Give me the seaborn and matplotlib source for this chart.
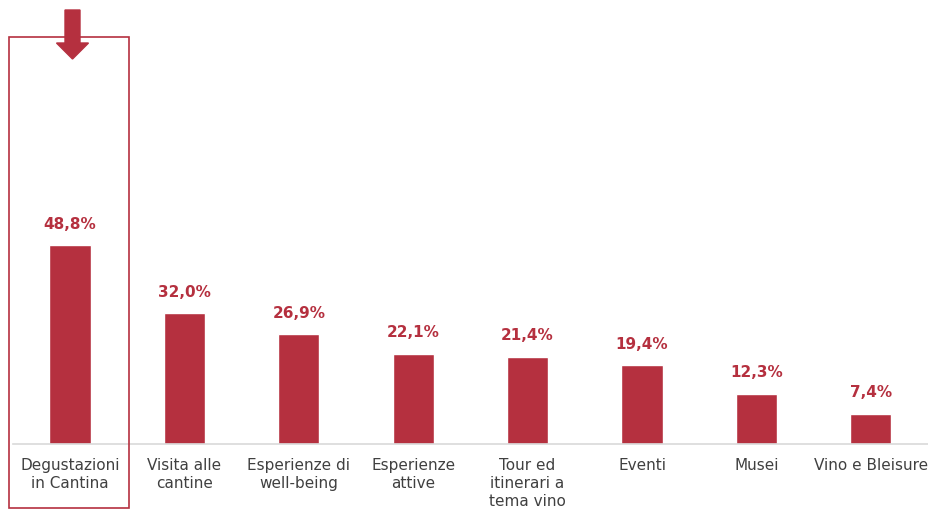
import matplotlib
matplotlib.use("Agg")
import matplotlib.pyplot as plt
from matplotlib.patches import Rectangle, FancyArrow
import seaborn as sns
import pandas as pd

categories = [
    "Degustazioni\nin Cantina",
    "Visita alle\ncantine",
    "Esperienze di\nwell-being",
    "Esperienze\nattive",
    "Tour ed\nitinerari a\ntema vino",
    "Eventi",
    "Musei",
    "Vino e Bleisure",
]
values = [48.8, 32.0, 26.9, 22.1, 21.4, 19.4, 12.3, 7.4]
value_labels = ["48,8%", "32,0%", "26,9%", "22,1%", "21,4%", "19,4%", "12,3%", "7,4%"]

RED = "#B5303F"
W, H = 929, 513

sns.set_theme(style="white")
plt.rcParams["font.family"] = ["DejaVu Sans"]

fig = plt.figure(figsize=(W / 100, H / 100), dpi=100)
ax = fig.add_axes([12.8 / W, 1 - 444 / H, (928 - 12.8) / W, 444 / H])

df = pd.DataFrame({"cat": categories, "val": values})
sns.barplot(data=df, x="cat", y="val", color=RED, saturation=1, width=0.36, ax=ax)

ax.set_ylim(0, 444 / 4.08)
ax.set_xlim(-0.5, len(categories) - 0.5)
ax.set_xlabel("")
ax.set_ylabel("")
ax.set_yticks([])
for s in ["top", "right", "left"]:
    ax.spines[s].set_visible(False)
ax.spines["bottom"].set_color("#D9D9D9")
ax.spines["bottom"].set_linewidth(1.2)
ax.tick_params(axis="x", length=0, pad=10, labelsize=11, labelcolor="#404040")
for t in ax.get_xticklabels():
    t.set_linespacing(1.25)
    t.set_verticalalignment("top")

for i, (v, lab) in enumerate(zip(values, value_labels)):
    ax.annotate(lab, (i, v), xytext=(0, 15), textcoords="offset points",
                ha="center", va="center", color=RED, fontsize=11, fontweight="bold")

# highlight frame around the first category
fig.patches.append(Rectangle((9 / W, 1 - 508 / H), 120 / W, 471 / H,
                             transform=fig.transFigure, fill=False,
                             edgecolor=RED, linewidth=1.2, zorder=5))
# arrow pointing down into the frame
fig.patches.append(FancyArrow(72.5 / W, 1 - 10 / H, 0, -49 / H,
                              width=15 / W, head_width=32 / W, head_length=16 / H,
                              length_includes_head=True, transform=fig.transFigure,
                              color=RED, zorder=6))

fig.savefig("out.png", dpi=100)
